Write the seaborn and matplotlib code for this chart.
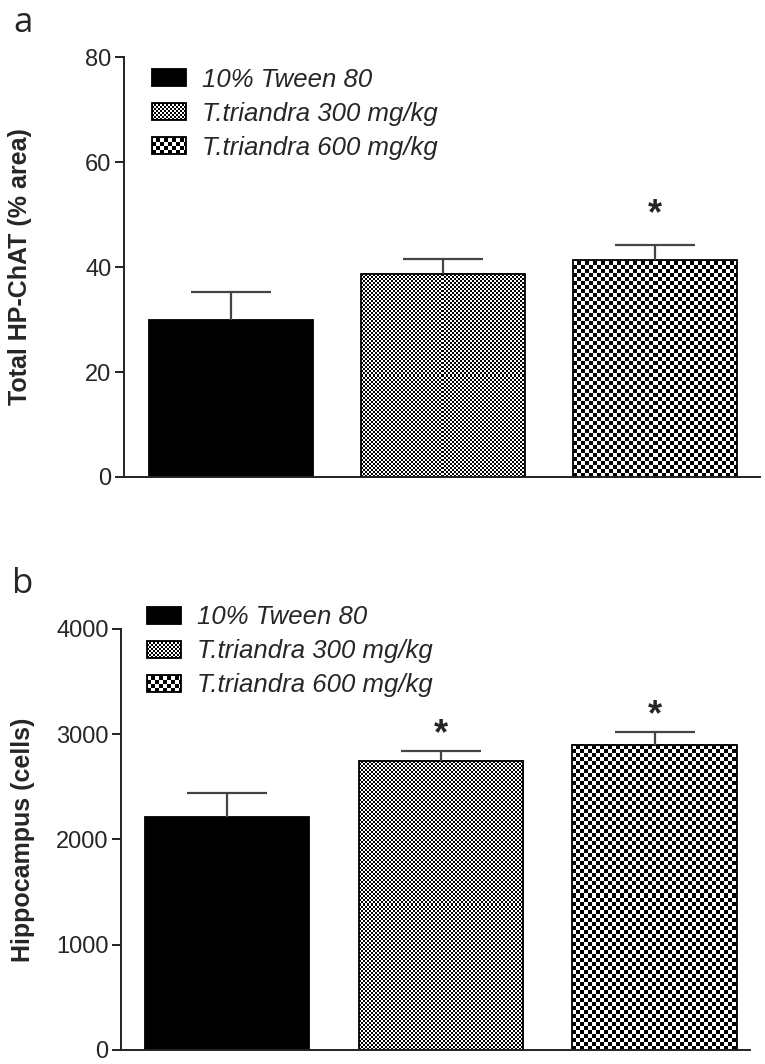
import numpy as np
import pandas as pd
import seaborn as sns
import matplotlib.pyplot as plt

groups = ['10% Tween 80', 'T.triandra 300 mg/kg', 'T.triandra 600 mg/kg']

# pannello a: HP-ChAT (% area)
chat_mean = [29.9, 38.7, 41.3]
chat_sem = [5.3, 2.8, 2.9]
chat_sig = ['', '', '*']

# pannello b: conta cellule ippocampo
cells_mean = [2214, 2746, 2898]
cells_sem = [228, 95, 123]
cells_sig = ['', '*', '*']

# dimensione (px) delle caselle della scacchiera per gruppo, 0 = pieno nero
checker_px = [0, 2, 4]

sns.set_style('ticks')
plt.rcParams['font.family'] = ['Liberation Sans', 'DejaVu Sans']
plt.rcParams['axes.edgecolor'] = '#222222'
plt.rcParams['axes.linewidth'] = 1.4

fig = plt.figure(figsize=(7.65, 10.64), dpi=100)
ax_a = fig.add_axes([0.1621, 0.5517, 0.8314, 0.3947])
ax_b = fig.add_axes([0.1582, 0.01316, 0.8222, 0.3957])


def checker(w, h, c, border=False):
    yy, xx = np.mgrid[0:h, 0:w]
    arr = ((xx // c + yy // c) % 2).astype(float)
    if border:
        arr[:1, :] = 0
        arr[-1:, :] = 0
        arr[:, :1] = 0
        arr[:, -1:] = 0
    return arr


def panel(ax, means, sems, sig, ylabel, ylim, yticks, xlim, star_off, leg_anchor):
    df = pd.DataFrame({'group': groups, 'value': means})
    sns.barplot(data=df, x='group', y='value', hue='group', palette=['black', 'white', 'white'],
                legend=False, width=0.77, edgecolor='black', linewidth=1.3, errorbar=None, ax=ax)
    ax.set_xlim(*xlim)
    ax.set_ylim(*ylim)
    ax.set_yticks(yticks)
    ax.set_xticks([])
    ax.set_xlabel('')
    ax.set_ylabel(ylabel, fontsize=18, fontweight='bold')
    ax.tick_params(axis='y', labelsize=17, length=6.5, width=1.4, pad=2.5, color='#222222')
    sns.despine(ax=ax)

    bars = ax.patches[:3]
    xs = [p.get_x() + p.get_width() / 2 for p in bars]
    # solo barra d'errore verso l'alto (niente cappuccio in basso)
    _, caps, _ = ax.errorbar(xs, means, yerr=[[0, 0, 0], sems], fmt='none', ecolor='#444444',
                             elinewidth=1.6, capsize=29, capthick=1.6, zorder=3)
    caps[0].remove()
    for x, m, s, t in zip(xs, means, sems, sig):
        if t:
            ax.annotate(t, (x, m + s), xytext=(0, star_off), textcoords='offset points',
                        ha='center', va='center', fontsize=26, fontweight='bold')

    # riempimento a scacchiera dentro le barre
    for p, c in zip(bars, checker_px):
        if c == 0:
            continue
        x0, y0 = ax.transData.transform((p.get_x(), 0))
        x1, y1 = ax.transData.transform((p.get_x() + p.get_width(), p.get_height()))
        w, h = int(round(x1 - x0)), int(round(y1 - y0))
        ax.imshow(checker(w, h, c), cmap='gray', vmin=0, vmax=1, origin='lower',
                  extent=(p.get_x(), p.get_x() + p.get_width(), 0, p.get_height()),
                  aspect='auto', interpolation='nearest', zorder=0.5, clip_path=p)
        p.set_facecolor('none')
        p.set_zorder(2)
    ax.set_xlim(*xlim)
    ax.set_ylim(*ylim)

    leg = ax.legend(handles=bars, labels=groups, loc='upper left', bbox_to_anchor=leg_anchor,
                    frameon=False, prop={'size': 18.5, 'style': 'italic'}, handlelength=1.32,
                    handleheight=0.66, handletextpad=0.62, labelspacing=0.39, borderpad=0,
                    borderaxespad=0)
    return leg


leg_a = panel(ax_a, chat_mean, chat_sem, chat_sig, 'Total HP-ChAT (% area)', (0, 80),
              [0, 20, 40, 60, 80], (-0.505, 2.495), 22, (0.044, 0.975))
leg_b = panel(ax_b, cells_mean, cells_sem, cells_sig, 'Hippocampus (cells)', (0, 4000),
              [0, 1000, 2000, 3000, 4000], (-0.496, 2.446), 12, (0.041, 1.056))

ax_a.yaxis.set_label_coords(-0.144, 0.5)
ax_b.yaxis.set_label_coords(-0.137, 0.5)

fig.text(0.018, 1 - 32 / 1064, 'a', fontsize=25, family=['Open Sans', 'DejaVu Sans'], va='baseline')
fig.text(0.016, 1 - 593 / 1064, 'b', fontsize=25, family=['Open Sans', 'DejaVu Sans'], va='baseline')

# scacchiera anche nei riquadri della legenda
fig.canvas.draw()
for leg in (leg_a, leg_b):
    for hp, c in zip(leg.get_patches(), checker_px):
        if c == 0:
            continue
        bb = hp.get_window_extent()
        w, h = int(round(bb.width)), int(round(bb.height))
        fig.figimage(checker(w, h, c, border=True), xo=int(round(bb.x0)), yo=int(round(bb.y0)),
                     cmap='gray', vmin=0, vmax=1, origin='lower', zorder=10)

fig.savefig('out.png', dpi=100)
